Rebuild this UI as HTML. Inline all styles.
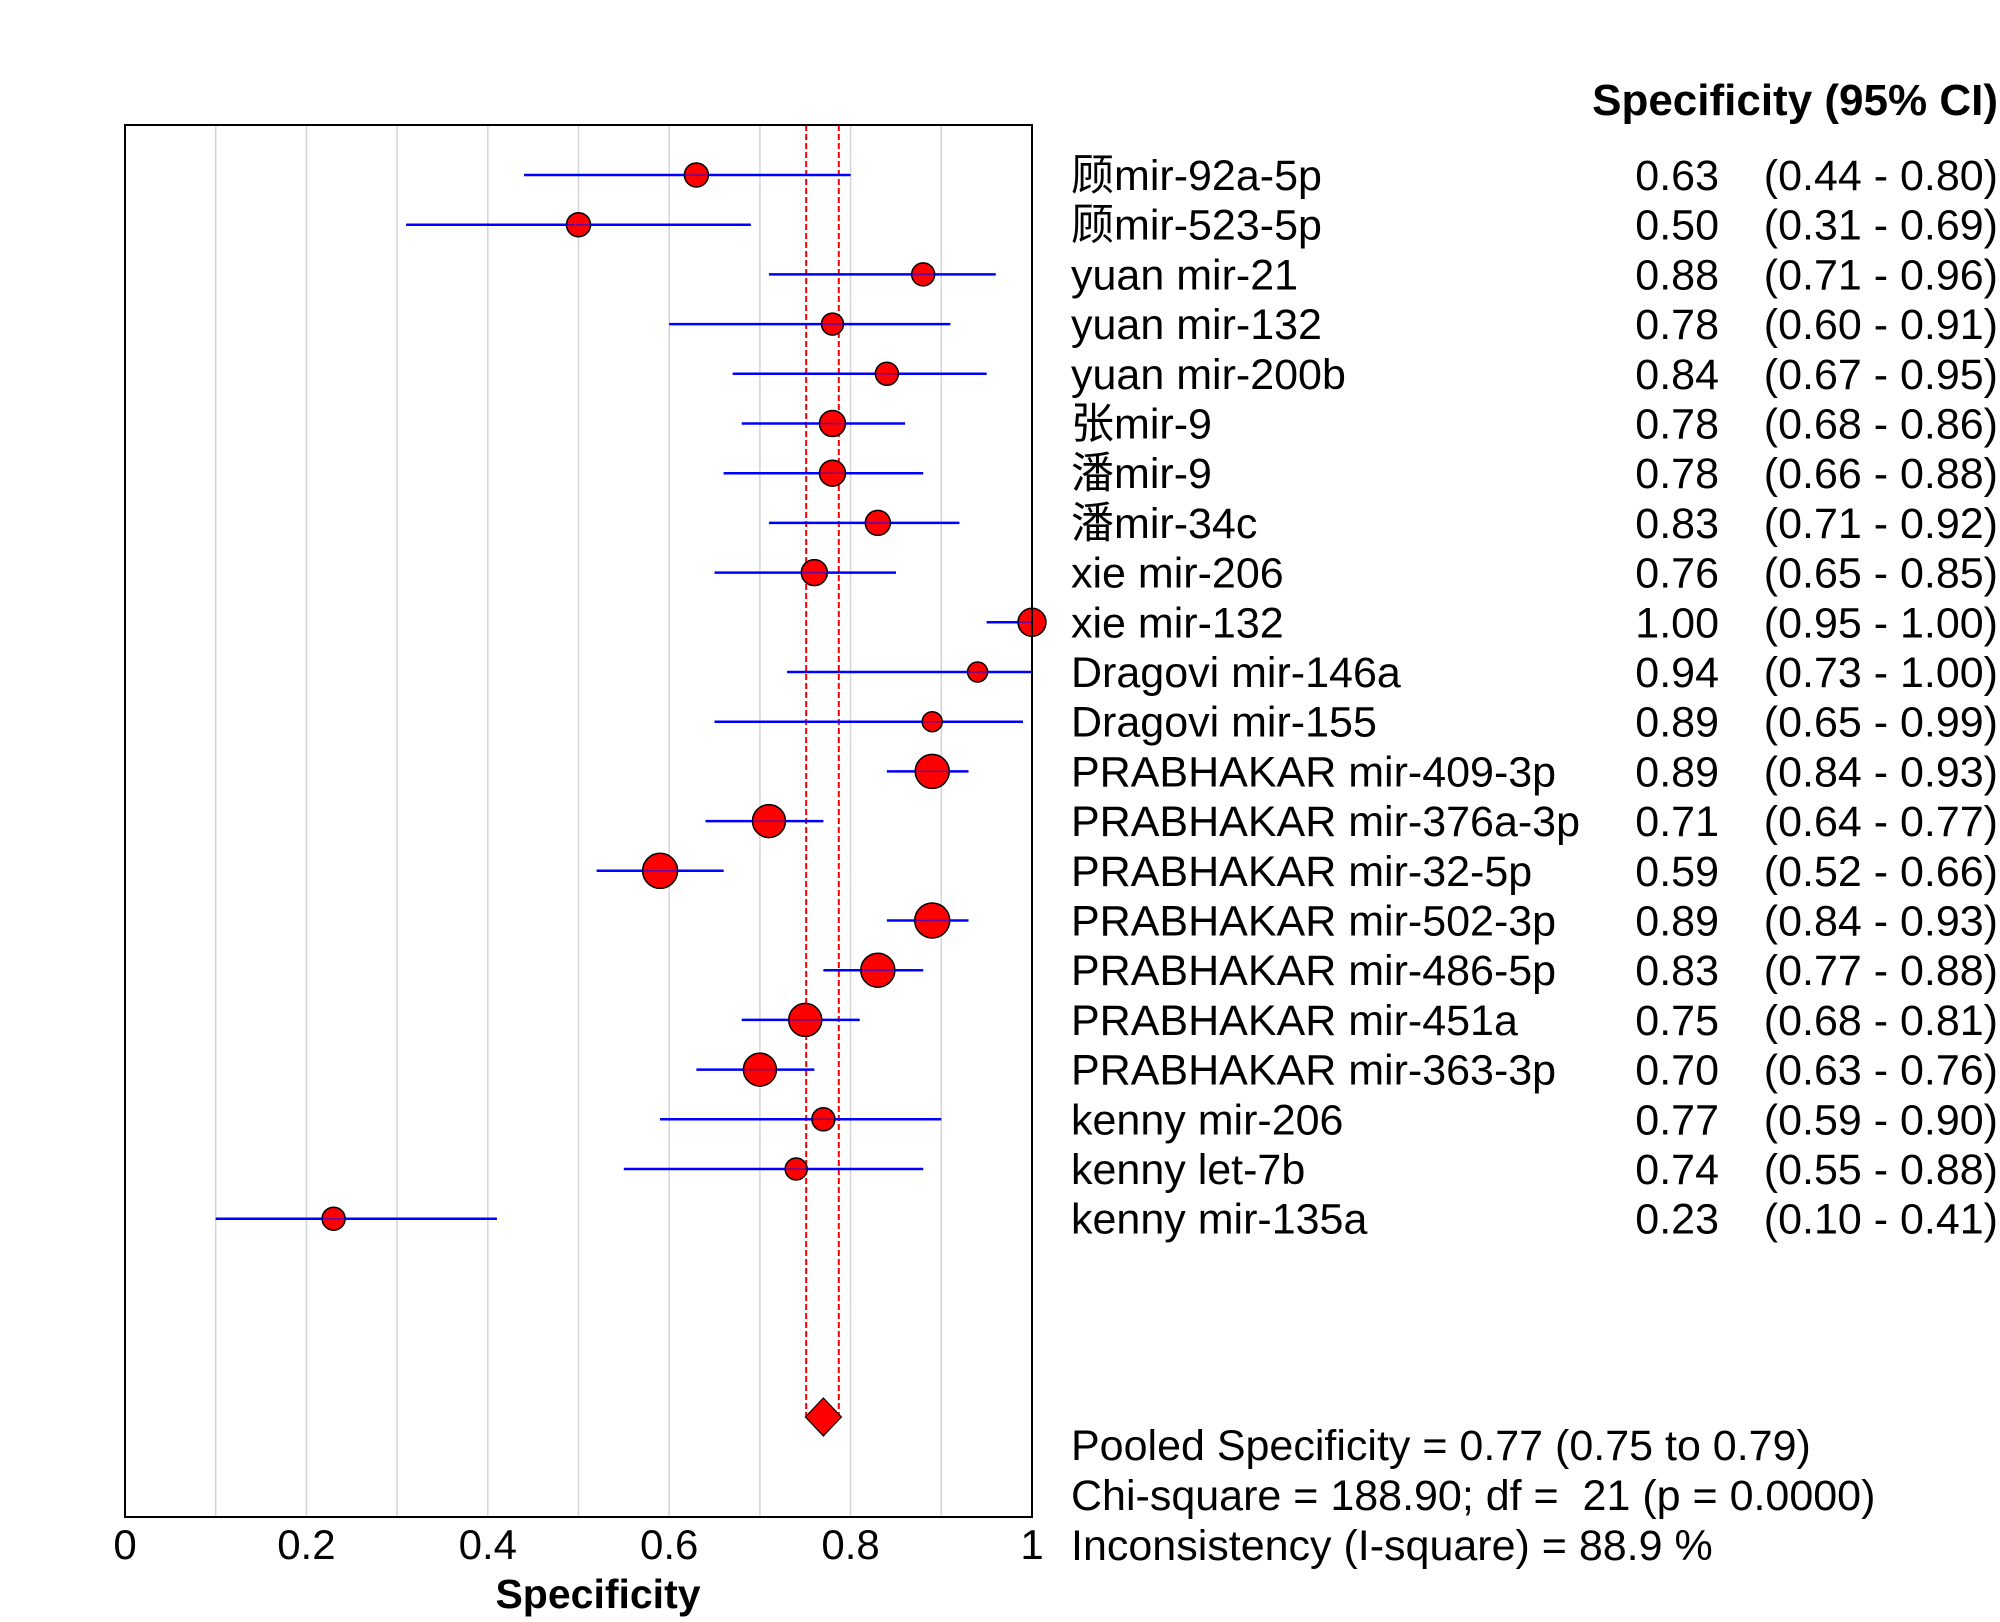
<!DOCTYPE html>
<html><head><meta charset="utf-8"><title>Specificity forest plot</title>
<style>
html,body{margin:0;padding:0;background:#fff;}
svg{display:block;}
text{font-family:"Liberation Sans","Noto Sans CJK SC",sans-serif;fill:#000;}
</style></head>
<body>
<svg id="chart" width="2000" height="1622" viewBox="0 0 2000 1622" xmlns="http://www.w3.org/2000/svg">
  <rect x="0" y="0" width="2000" height="1622" fill="#fff"/>
  <g id="grid"></g>
  <g id="refs"></g>
  <g id="marks"></g>
  <rect x="125" y="125" width="907" height="1392" fill="none" stroke="#000" stroke-width="2"/>
  <g id="xticks"></g>
  <text x="598" y="1608" font-size="41" font-weight="bold" text-anchor="middle">Specificity</text>
  <text x="1998" y="115" font-size="44" font-weight="bold" text-anchor="end">Specificity (95% CI)</text>
  <g id="labels"></g>
  <g font-size="43">
    <text x="1071" y="1460">Pooled Specificity = 0.77 (0.75 to 0.79)</text>
    <text x="1071" y="1510">Chi-square = 188.90; df = &#160;21 (p = 0.0000)</text>
    <text x="1071" y="1560">Inconsistency (I-square) = 88.9 %</text>
  </g>
</svg>
<script>
const studies = ["顾mir-92a-5p","顾mir-523-5p","yuan mir-21","yuan mir-132","yuan mir-200b","张mir-9","潘mir-9","潘mir-34c","xie mir-206","xie mir-132","Dragovi mir-146a","Dragovi mir-155","PRABHAKAR mir-409-3p","PRABHAKAR mir-376a-3p","PRABHAKAR mir-32-5p","PRABHAKAR mir-502-3p","PRABHAKAR mir-486-5p","PRABHAKAR mir-451a","PRABHAKAR mir-363-3p","kenny mir-206","kenny let-7b","kenny mir-135a"];
const spec = [0.63,0.50,0.88,0.78,0.84,0.78,0.78,0.83,0.76,1.00,0.94,0.89,0.89,0.71,0.59,0.89,0.83,0.75,0.70,0.77,0.74,0.23];
const ciLow = [0.44,0.31,0.71,0.60,0.67,0.68,0.66,0.71,0.65,0.95,0.73,0.65,0.84,0.64,0.52,0.84,0.77,0.68,0.63,0.59,0.55,0.10];
const ciHigh = [0.80,0.69,0.96,0.91,0.95,0.86,0.88,0.92,0.85,1.00,1.00,0.99,0.93,0.77,0.66,0.93,0.88,0.81,0.76,0.90,0.88,0.41];
const weights = [12,12,11.5,11,11.5,13,13,12.5,13,14,10,10,17,16.5,17.5,17.5,17,16.5,16.5,11.5,11,11.5];
const pooled = [0.77,0.751,0.787];
const xTickVals = [0,0.2,0.4,0.6,0.8,1];
const xTickLabels = ["0","0.2","0.4","0.6","0.8","1"];
const gridVals = [0.1,0.2,0.3,0.4,0.5,0.6,0.7,0.8,0.9];

const NS="http://www.w3.org/2000/svg";
const X0=125, X1=1032, TOP=125, BOT=1517;
function xs(v){return X0+v*(X1-X0);}
function ys(i){return 175+i*49.7;}
function mk(tag,attrs,parent){const e=document.createElementNS(NS,tag);for(const k in attrs)e.setAttribute(k,attrs[k]);parent.appendChild(e);return e;}

const grid=document.getElementById('grid');
gridVals.forEach(v=>{
  const l=mk('line',{x1:xs(v),x2:xs(v),y1:TOP,y2:BOT,stroke:'#d4d4d4','stroke-width':1.5},grid);
  
  
});

const refs=document.getElementById('refs');
const pooledY=1417;
[pooled[1],pooled[2]].forEach(v=>{
  const l=mk('line',{x1:xs(v),x2:xs(v),y1:TOP,y2:pooledY,stroke:'#ff0000','stroke-width':2,'stroke-dasharray':'6,3'},refs);
  
  
});

const marks=document.getElementById('marks');
studies.forEach((s,i)=>{
  const y=ys(i);
  const w=mk('line',{x1:xs(ciLow[i]),x2:xs(ciHigh[i]),y1:y,y2:y,stroke:'#0000ff','stroke-width':2.5},marks);
  
  
  const c=mk('circle',{cx:xs(spec[i]),cy:y,r:weights[i],fill:'#ff0000',stroke:'#000','stroke-width':1.5},marks);
  
  
  const w2=mk('line',{x1:xs(ciLow[i]),x2:xs(ciHigh[i]),y1:y,y2:y,stroke:'#0000ff','stroke-width':1.5,'stroke-opacity':0.6},marks);
  
  
});
const d=18, dh=19, px=xs(pooled[0]);
const dia=mk('polygon',{points:`${px},${pooledY-dh} ${px+d},${pooledY} ${px},${pooledY+dh} ${px-d},${pooledY}`,fill:'#ff0000',stroke:'#000','stroke-width':1.2},marks);



const xt=document.getElementById('xticks');
xTickVals.forEach((v,i)=>{
  const t=mk('text',{x:xs(v),y:1559,'font-size':42,'text-anchor':'middle'},xt);
  t.textContent=xTickLabels[i];
  
  
});

const lab=document.getElementById('labels');
studies.forEach((s,i)=>{
  const y=ys(i)+15;
  const a=mk('text',{x:1071,y:y,'font-size':43},lab);
  a.textContent=s;
  
  
  const b=mk('text',{x:1719,y:y,'font-size':43,'text-anchor':'end'},lab);
  b.textContent=spec[i].toFixed(2);
  
  
  const c=mk('text',{x:1998,y:y,'font-size':43,'text-anchor':'end'},lab);
  c.textContent='('+ciLow[i].toFixed(2)+' - '+ciHigh[i].toFixed(2)+')';
  
  
});
</script>
</body></html>
